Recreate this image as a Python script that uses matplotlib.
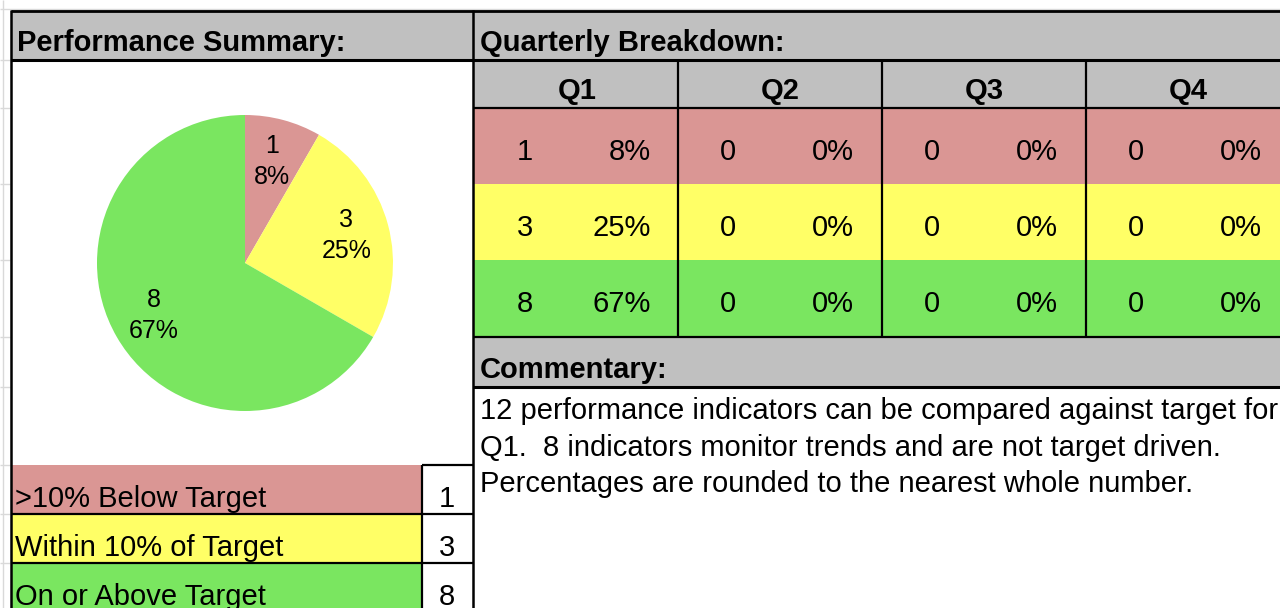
import matplotlib.pyplot as plt
from matplotlib.patches import Rectangle

# data
categories = ['>10% Below Target', 'Within 10% of Target', 'On or Above Target']
cat_colors = ['#DA9694', '#FFFF66', '#7AE660']
quarters = ['Q1', 'Q2', 'Q3', 'Q4']
q1_counts = [1, 3, 8]
q2_counts = [0, 0, 0]
q3_counts = [0, 0, 0]
q4_counts = [0, 0, 0]
q1_pct = [8, 25, 67]
q2_pct = [0, 0, 0]
q3_pct = [0, 0, 0]
q4_pct = [0, 0, 0]
commentary = ['12 performance indicators can be compared against target for',
              'Q1.  8 indicators monitor trends and are not target driven.',
              'Percentages are rounded to the nearest whole number.']

quarter_counts = [q1_counts, q2_counts, q3_counts, q4_counts]
quarter_pct = [q1_pct, q2_pct, q3_pct, q4_pct]

plt.rcParams['font.family'] = ['Liberation Sans', 'DejaVu Sans']
W, H = 1280, 608
GREY = '#C0C0C0'
FS = 21
HFS = 21

fig = plt.figure(figsize=(W / 100, H / 100), dpi=100)
ax = fig.add_axes([0, 0, 1, 1])
ax.set_xlim(0, W)
ax.set_ylim(H, 0)
ax.axis('off')

def box(x0, y0, x1, y1, color):
    ax.add_patch(Rectangle((x0, y0), x1 - x0, y1 - y0, facecolor=color, edgecolor='none'))

def hline(y, x0, x1, lw=1.6, color='black'):
    ax.plot([x0, x1], [y, y], color=color, lw=lw, solid_capstyle='butt')

def vline(x, y0, y1, lw=1.6, color='black'):
    ax.plot([x, x], [y0, y1], color=color, lw=lw, solid_capstyle='butt')

# spreadsheet margin gridlines
vline(3, 0, H, lw=1, color='#D9D9D9')
hline(9, 0, W, lw=1, color='#D9D9D9')
for gy in [60, 108, 184, 260, 337, 387, 465, 514, 563]:
    hline(gy, 0, 10, lw=1, color='#D9D9D9')

# header bands
box(11, 10, W, 60, GREY)
box(473, 60, W, 108, GREY)
box(473, 337, W, 387, GREY)
ax.text(17, 51, 'Performance Summary:', fontsize=HFS, fontweight='bold', va='baseline')
ax.text(480, 51, 'Quarterly Breakdown:', fontsize=HFS, fontweight='bold', va='baseline')
ax.text(480, 378, 'Commentary:', fontsize=HFS, fontweight='bold', va='baseline')

# quarterly table
col_x = [475, 678, 882, 1086]
col_w = 204
row_y = [108, 184, 260, 337]
for i, color in enumerate(cat_colors):
    box(473, row_y[i], W, row_y[i + 1], color)
for j, q in enumerate(quarters):
    c = col_x[j]
    ax.text(c + col_w / 2, 99, q, fontsize=HFS, fontweight='bold', ha='center', va='baseline')
    for i in range(3):
        base = row_y[i] + 52
        ax.text(c + 50, base, str(quarter_counts[j][i]), fontsize=FS, ha='center', va='baseline')
        ax.text(c + 176, base, f'{quarter_pct[j][i]}%', fontsize=FS, ha='right', va='baseline')
    if j > 0:
        vline(c, 60, 337)

# commentary text
for k, line in enumerate(commentary):
    ax.text(480, 419 + k * 36.5, line, fontsize=FS, va='baseline')

# legend table under the pie
leg_y = [465, 514, 563, 612]
for i, (lab, color) in enumerate(zip(categories, cat_colors)):
    box(11, leg_y[i], 422, leg_y[i + 1], color)
    ax.text(15, leg_y[i] + 42, lab, fontsize=FS, va='baseline')
    ax.text(447, leg_y[i] + 42, str(q1_counts[i]), fontsize=FS, ha='center', va='baseline')
hline(465, 422, 473)
hline(514, 11, 473)
hline(563, 11, 473)
vline(422, 465, H)

# main grid lines
hline(11, 11, W, lw=2)
hline(60, 11, W, lw=2.2)
hline(108, 473, W)
hline(337, 473, W)
hline(387, 473, W, lw=2.2)
vline(11, 10, H, lw=1.8)
vline(473, 10, H, lw=1.8)

# pie chart
cx, cy, r = 245, 263, 148
pax = fig.add_axes([(cx - r) / W, (H - cy - r) / H, 2 * r / W, 2 * r / H])
total = sum(q1_counts)
pax.pie(q1_counts, colors=cat_colors, startangle=90, counterclock=False, radius=1,
        autopct=lambda p: f'{round(p * total / 100)}\n{p:.0f}%', pctdistance=0.71,
        textprops={'fontsize': 18, 'linespacing': 1.35},
        wedgeprops={'linewidth': 0})
pax.set_xlim(-1, 1)
pax.set_ylim(-1, 1)
pax.set_aspect('equal')
pax.axis('off')

fig.savefig('out.png', dpi=100)
